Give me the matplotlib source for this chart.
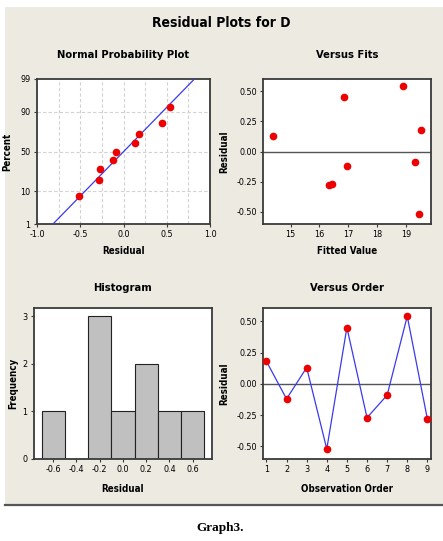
"""Minitab-style four-in-one residual plots for D."""

from statistics import NormalDist

import matplotlib
matplotlib.use("Agg")
import matplotlib.pyplot as plt
from matplotlib.lines import Line2D
from matplotlib.patches import Rectangle
import numpy as np

# data
order = [1, 2, 3, 4, 5, 6, 7, 8, 9]
residuals = [0.18, -0.12, 0.13, -0.52, 0.45, -0.27, -0.09, 0.54, -0.28]
fitted = [19.52, 16.95, 14.39, 19.42, 16.85, 16.43, 19.31, 18.89, 16.34]
hist_centers = [-0.6, -0.4, -0.2, 0.0, 0.2, 0.4, 0.6]
hist_counts = [1, 0, 3, 1, 2, 1, 1]
pct_ticks = [1, 10, 50, 90, 99]
resid_ticks = [0.50, 0.25, 0.00, -0.25, -0.50]

W, H = 443, 541
plt.rcParams["font.family"] = ["DejaVu Sans"]
plt.rcParams["font.stretch"] = "condensed"

BG = "#edeae2"
EDGE = "#3a3a3a"
RED = "#ee0000"
BLUE = "#3a3aee"
TITLE = dict(fontsize=8, fontweight="bold")
LAB = dict(fontsize=7, fontweight="bold")


def px(l, t, r, b):
    """pixel box -> figure fraction rect."""
    return [l / W, 1 - b / H, (r - l) / W, (b - t) / H]


def style(ax):
    for s in ax.spines.values():
        s.set_color(EDGE)
        s.set_linewidth(1.3)
    ax.tick_params(labelsize=6.5, length=2.5, width=0.8, color=EDGE, pad=2)
    ax.set_facecolor("white")


fig = plt.figure(figsize=(W / 100, H / 100), dpi=100)
fig.patches.append(Rectangle((5 / W, 1 - 505 / H), 438 / W, 498 / H,
                             transform=fig.transFigure, facecolor=BG,
                             edgecolor="none", zorder=-1))
fig.lines.append(Line2D([5 / W, 1], [1 - 505 / H, 1 - 505 / H],
                        transform=fig.transFigure, color="#555555", lw=1.6))
fig.text(221 / W, 1 - 23 / H, "Residual Plots for D", ha="center",
         va="center", fontsize=10, fontweight="bold")
fig.text(220 / W, 1 - 528 / H, "Graph3.", ha="center", va="center",
         fontsize=9.5, fontweight="bold", family="Liberation Serif",
         stretch="normal")

# Normal probability plot
nd = NormalDist()
ax1 = fig.add_axes(px(37, 79, 210, 224))
style(ax1)
srt = np.sort(residuals)
n = len(srt)
pcts = (np.arange(1, n + 1) - 0.3) / (n + 0.4)
zs = [nd.inv_cdf(p) for p in pcts]
mu, sd = np.mean(srt), np.std(srt, ddof=1)
zlo, zhi = nd.inv_cdf(0.01), nd.inv_cdf(0.99)
zline = np.linspace(zlo, zhi, 50)
ax1.plot(mu + sd * zline, zline, color=BLUE, lw=0.9, zorder=3)
ax1.plot(srt, zs, "o", color=RED, ms=4.5, zorder=4)
ax1.set_xlim(-1.0, 1.0)
ax1.set_ylim(zlo, zhi)
ax1.set_xticks([-1.0, -0.5, 0.0, 0.5, 1.0])
ax1.set_xticklabels(["-1.0", "-0.5", "0.0", "0.5", "1.0"])
ax1.set_yticks([nd.inv_cdf(p / 100) for p in pct_ticks])
ax1.set_yticklabels([str(p) for p in pct_ticks])
for xv in np.arange(-0.75, 1.01, 0.25):
    ax1.axvline(xv, color="#d2d2d2", ls=(0, (3, 2)), lw=0.8, zorder=1)
for p in (10, 50, 90):
    ax1.axhline(nd.inv_cdf(p / 100), color="#d2d2d2", ls=(0, (3, 2)),
                lw=0.8, zorder=1)
ax1.set_title("Normal Probability Plot", pad=15, **TITLE)
ax1.set_xlabel("Residual", labelpad=5, **LAB)
ax1.set_ylabel("Percent", labelpad=6, **LAB)

# Versus fits
ax2 = fig.add_axes(px(263, 79, 431, 224))
style(ax2)
ax2.axhline(0, color="#555555", lw=1.0, zorder=1)
ax2.plot(fitted, residuals, "o", color=RED, ms=4.5, zorder=3)
ax2.set_xlim(14.05, 19.85)
ax2.set_ylim(-0.6, 0.6)
ax2.set_xticks([15, 16, 17, 18, 19])
ax2.set_yticks(resid_ticks)
ax2.set_yticklabels([f"{v:.2f}" for v in resid_ticks])
ax2.set_title("Versus Fits", pad=15, **TITLE)
ax2.set_xlabel("Fitted Value", labelpad=5, **LAB)
ax2.set_ylabel("Residual", labelpad=5, **LAB)

# Histogram
ax3 = fig.add_axes(px(34, 308, 212, 459))
style(ax3)
ax3.bar(hist_centers, hist_counts, width=0.2, color="#c0c0c0",
        edgecolor="#222222", linewidth=0.8)
ax3.set_xlim(-0.765, 0.767)
ax3.set_ylim(0, 3.17)
ax3.set_xticks(hist_centers)
ax3.set_xticklabels([f"{v:.1f}" for v in hist_centers])
ax3.set_yticks([0, 1, 2, 3])
ax3.set_title("Histogram", pad=12, **TITLE)
ax3.set_xlabel("Residual", labelpad=7, **LAB)
ax3.set_ylabel("Frequency", labelpad=3, **LAB)

# Versus order
ax4 = fig.add_axes(px(263, 308, 431, 459))
style(ax4)
ax4.axhline(0, color="#555555", lw=1.0, zorder=1)
ax4.plot(order, residuals, "-", color=BLUE, lw=0.9, zorder=2)
ax4.plot(order, residuals, "o", color=RED, ms=4.5, zorder=3)
ax4.set_xlim(0.83, 9.18)
ax4.set_ylim(-0.6, 0.606)
ax4.set_xticks(order)
ax4.set_yticks(resid_ticks)
ax4.set_yticklabels([f"{v:.2f}" for v in resid_ticks])
ax4.set_title("Versus Order", pad=12, **TITLE)
ax4.set_xlabel("Observation Order", labelpad=7, **LAB)
ax4.set_ylabel("Residual", labelpad=5, **LAB)

fig.savefig("out.png", dpi=100)
